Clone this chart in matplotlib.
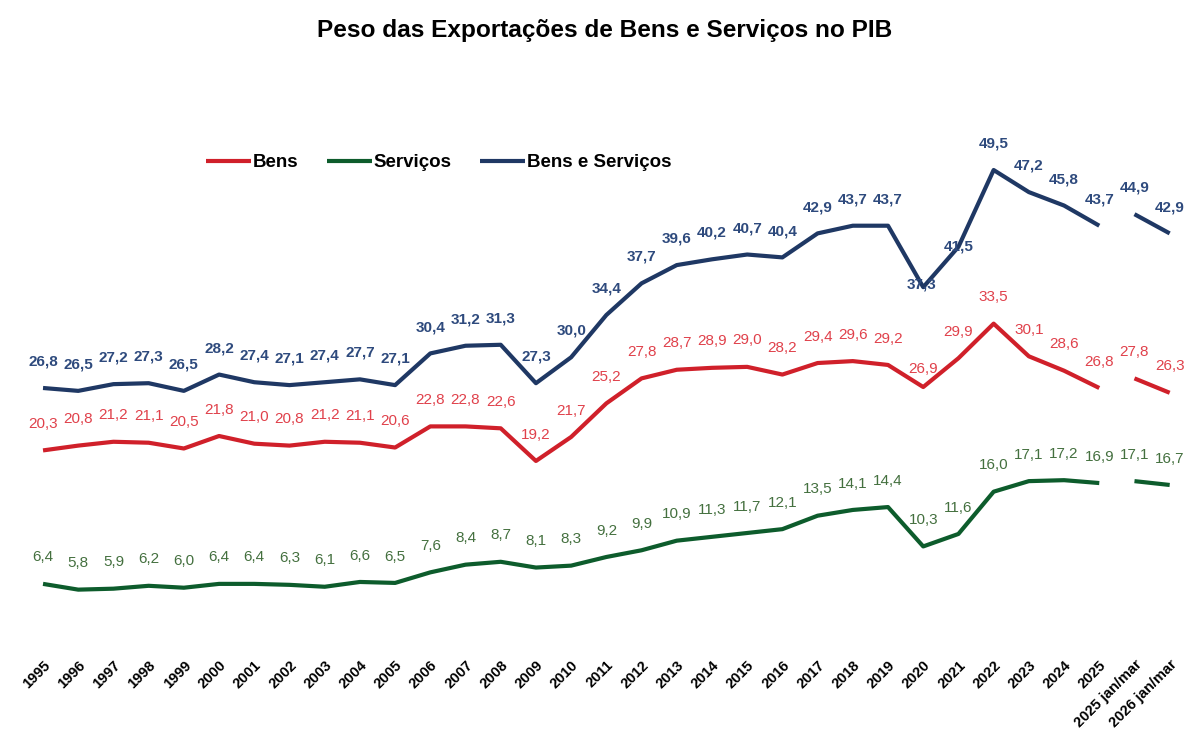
import matplotlib
matplotlib.use('Agg')
import matplotlib.pyplot as plt

plt.rcParams['font.family'] = ['Liberation Sans', 'DejaVu Sans']

# dados (% do PIB)
anos = [str(a) for a in range(1995, 2026)] + ['2025 jan/mar', '2026 jan/mar']
bens = [20.3, 20.8, 21.2, 21.1, 20.5, 21.8, 21.0, 20.8, 21.2, 21.1, 20.6,
        22.8, 22.8, 22.6, 19.2, 21.7, 25.2, 27.8, 28.7, 28.9, 29.0, 28.2,
        29.4, 29.6, 29.2, 26.9, 29.9, 33.5, 30.1, 28.6, 26.8, 27.8, 26.3]
servicos = [6.4, 5.8, 5.9, 6.2, 6.0, 6.4, 6.4, 6.3, 6.1, 6.6, 6.5,
            7.6, 8.4, 8.7, 8.1, 8.3, 9.2, 9.9, 10.9, 11.3, 11.7, 12.1,
            13.5, 14.1, 14.4, 10.3, 11.6, 16.0, 17.1, 17.2, 16.9, 17.1, 16.7]
bens_servicos = [26.8, 26.5, 27.2, 27.3, 26.5, 28.2, 27.4, 27.1, 27.4, 27.7, 27.1,
                 30.4, 31.2, 31.3, 27.3, 30.0, 34.4, 37.7, 39.6, 40.2, 40.7, 40.4,
                 42.9, 43.7, 43.7, 37.3, 41.5, 49.5, 47.2, 45.8, 43.7, 44.9, 42.9]

cor_bens = '#d0202a'
cor_serv = '#0d5c2c'
cor_bs = '#1f3864'

fig = plt.figure(figsize=(11.88, 7.33), dpi=100)
ax = fig.add_axes([0.0214, 0.1196, 0.978, 0.7205])

x = list(range(len(anos)))
n_anual = 31  # 1995-2025, depois os trimestres jan/mar

series = [
    ('Bens', bens, cor_bens, '#e0414b', 'normal'),
    ('Serviços', servicos, cor_serv, '#44703f', 'normal'),
    ('Bens e Serviços', bens_servicos, cor_bs, '#2e4a7d', 'bold'),
]

for nome, vals, cor, cor_txt, peso in series:
    ax.plot(x[:n_anual], vals[:n_anual], color=cor, lw=3, solid_capstyle='butt', label=nome)
    ax.plot(x[n_anual:], vals[n_anual:], color=cor, lw=3, solid_capstyle='butt')
    for i, v in enumerate(vals):
        dx, dy = 0, 19
        if nome == 'Bens e Serviços' and anos[i] == '2020':
            dx, dy = -1, 2
        if nome == 'Bens e Serviços' and anos[i] == '2021':
            dx, dy = 0, 0
        if nome == 'Bens' and anos[i] == '2020':
            dx, dy = 0, 13
        ax.annotate(f'{v:.1f}'.replace('.', ','), (i, v), xytext=(dx, dy),
                    textcoords='offset points', ha='center', va='center',
                    fontsize=11, color=cor_txt, fontweight=peso)

ax.set_xlim(-0.5, 32.5)
ax.set_ylim(0, 55)
ax.set_yticks([])
ax.set_xticks(x)
ax.set_xticklabels(anos, rotation=45, ha='right', rotation_mode='anchor',
                   fontsize=10.5, fontweight='bold')
ax.tick_params(axis='x', length=0, pad=9)
for s in ax.spines.values():
    s.set_visible(False)

leg = ax.legend(loc='upper left', bbox_to_anchor=(0.141, 0.962), ncol=3, frameon=False,
                handlelength=2.4, handletextpad=0.1, columnspacing=1.5,
                prop={'weight': 'bold', 'size': 13.5})

fig.suptitle('Peso das Exportações de Bens e Serviços no PIB', x=0.509, y=0.974,
             fontsize=17.6, fontweight='bold')

fig.savefig('out.png', dpi=100)
